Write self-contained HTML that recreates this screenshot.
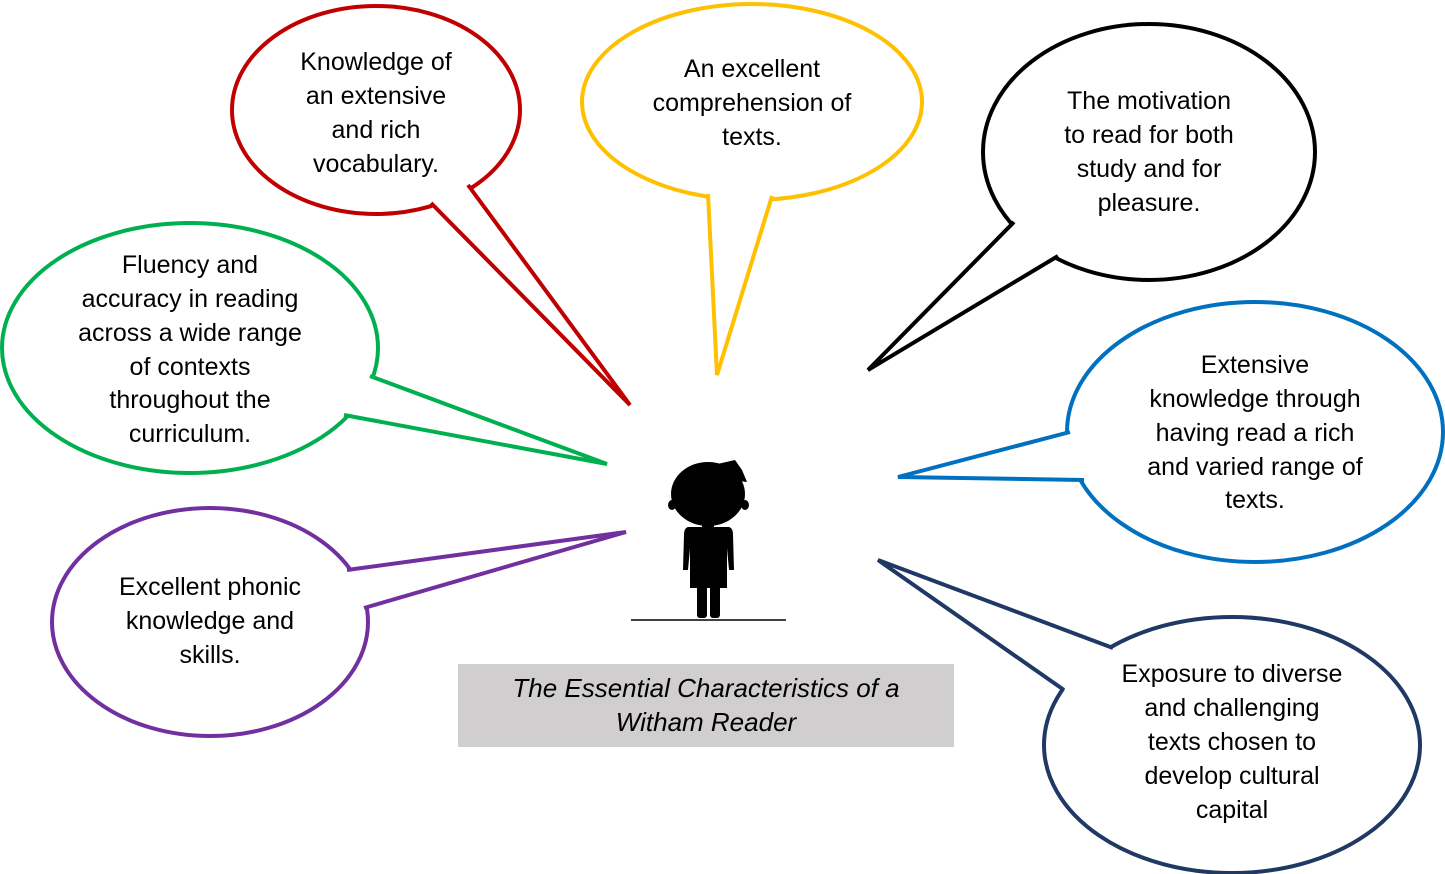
<!DOCTYPE html>
<html><head><meta charset="utf-8"><style>
body{margin:0;background:#fff;}
svg{display:block;}
text{font-family:"Liberation Sans","DejaVu Sans",sans-serif;font-size:25px;fill:#000;}
</style></head><body>
<svg width="1445" height="874" viewBox="0 0 1445 874" xmlns="http://www.w3.org/2000/svg">
<g fill="#fff" stroke-width="4" stroke-linejoin="miter" stroke-linecap="butt">
<g stroke="#c00000"><ellipse cx="376" cy="110" rx="144" ry="104"/><path d="M468,185 L630,405 L431,203 L440,180 Z" stroke="none"/><polyline points="468,185 630,405 431,203" fill="none"/></g>
<g stroke="#ffc000"><ellipse cx="752" cy="102" rx="170" ry="98"/><path d="M708,194 L717,375 L772,196 L740,180 Z" stroke="none"/><polyline points="708,194 717,375 772,196" fill="none"/></g>
<g stroke="#000"><ellipse cx="1149" cy="152" rx="166" ry="128"/><path d="M1014,222 L868,370 L1058,256 L1040,225 Z" stroke="none"/><polyline points="1014,222 868,370 1058,256" fill="none"/></g>
<g stroke="#00b050"><ellipse cx="190" cy="348" rx="188" ry="125"/><path d="M370,376 L607,464 L344,415 L350,385 Z" stroke="none"/><polyline points="370,376 607,464 344,415" fill="none"/></g>
<g stroke="#0070c0"><ellipse cx="1255" cy="432" rx="188" ry="130"/><path d="M1070,432 L898,477 L1084,480 L1095,455 Z" stroke="none"/><polyline points="1070,432 898,477 1084,480" fill="none"/></g>
<g stroke="#7030a0"><ellipse cx="210" cy="622" rx="158" ry="114"/><path d="M347,570 L626,532 L364,608 L345,595 Z" stroke="none"/><polyline points="347,570 626,532 364,608" fill="none"/></g>
<g stroke="#203864"><ellipse cx="1232" cy="745" rx="188" ry="128"/><path d="M1113,648 L878,560 L1064,690 L1095,675 Z" stroke="none"/><polyline points="1113,648 878,560 1064,690" fill="none"/></g>
</g>
<g text-anchor="middle">
<text x="376" y="70">Knowledge of</text><text x="376" y="104">an extensive</text><text x="376" y="138">and rich</text><text x="376" y="172">vocabulary.</text>
<text x="752" y="77">An excellent</text><text x="752" y="111">comprehension of</text><text x="752" y="145">texts.</text>
<text x="1149" y="109">The motivation</text><text x="1149" y="143">to read for both</text><text x="1149" y="177">study and for</text><text x="1149" y="211">pleasure.</text>
<text x="190" y="273">Fluency and</text><text x="190" y="307">accuracy in reading</text><text x="190" y="341">across a wide range</text><text x="190" y="375">of contexts</text><text x="190" y="408">throughout the</text><text x="190" y="442">curriculum.</text>
<text x="1255" y="373">Extensive</text><text x="1255" y="407">knowledge through</text><text x="1255" y="441">having read a rich</text><text x="1255" y="475">and varied range of</text><text x="1255" y="508">texts.</text>
<text x="210" y="595">Excellent phonic</text><text x="210" y="629">knowledge and</text><text x="210" y="663">skills.</text>
<text x="1232" y="682">Exposure to diverse</text><text x="1232" y="716">and challenging</text><text x="1232" y="750">texts chosen to</text><text x="1232" y="784">develop cultural</text><text x="1232" y="818">capital</text>
</g>
<rect x="458" y="664" width="496" height="83" fill="#d0cece"/>
<g text-anchor="middle"><text x="706" y="697" style="font-size:26px;font-style:italic">The Essential Characteristics of a</text><text x="706" y="731" style="font-size:26px;font-style:italic">Witham Reader</text></g>
<line x1="631" y1="620" x2="786" y2="620" stroke="#000" stroke-width="1.5"/>
<g fill="#000">
<ellipse cx="708" cy="494" rx="37" ry="32"/>
<path d="M700,468 L735,460 L742,470 L747,482 L730,480 Z"/>
<ellipse cx="672" cy="505" rx="4" ry="5"/><ellipse cx="745" cy="505" rx="4" ry="5"/>
<rect x="702" y="520" width="12" height="10"/>
<path d="M688,527 L729,527 Q733,528 733,535 L734,570 L729,570 L727,548 L727,588 L690,588 L690,548 L688,570 L683,570 L684,535 Q684,528 688,527 Z"/>
<rect x="697" y="585" width="10" height="33" rx="3"/><rect x="710" y="585" width="10" height="33" rx="3"/>
</g>
</svg>
</body></html>
